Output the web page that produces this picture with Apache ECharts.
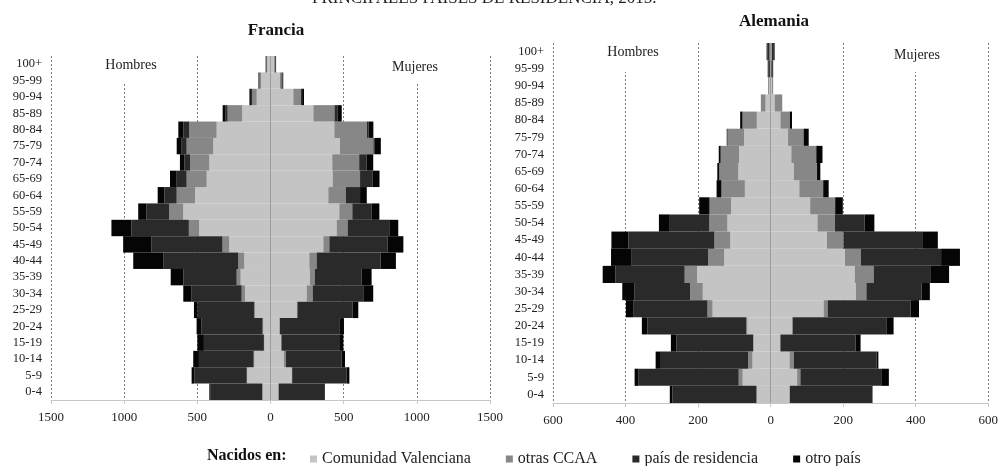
<!DOCTYPE html>
<html>
<head>
<meta charset="utf-8">
<script src="https://cdn.jsdelivr.net/npm/echarts@6/dist/echarts.min.js"></script>
<style>
html,body{margin:0;padding:0;background:#fff;}
#c{width:1001px;height:466px;}
</style>
</head>
<body>
<div id="c"></div>
<script>
// Categories bottom -> top
const ageGroups = ['0-4','5-9','10-14','15-19','20-24','25-29','30-34','35-39','40-44','45-49','50-54','55-59','60-64','65-69','70-74','75-79','80-84','85-89','90-94','95-99','100+'];
const seriesNames = ['Comunidad Valenciana','otras CCAA','país de residencia','otro país'];

// Francia - Hombres
const frMenCV     = [53,159,110,42,49,106,174,204,179,282,487,596,516,436,418,391,368,193,94,65,22];
const frMenOtras  = [3,3,5,3,5,7,23,27,41,46,71,96,125,137,132,182,187,100,32,10,4];
const frMenPais   = [353,359,374,410,417,385,342,364,513,485,392,155,84,68,39,34,41,14,8,5,4];
const frMenOtro   = [9,18,39,45,34,25,57,87,205,194,137,57,46,46,30,34,34,20,10,3,3];
// Francia - Mujeres
const frWomCV     = [53,145,92,72,60,179,247,270,265,361,452,470,395,425,422,475,436,293,156,65,25];
const frWomOtras  = [3,3,14,3,5,5,41,34,50,41,75,89,119,187,184,228,222,144,52,10,5];
const frWomPais   = [311,373,380,400,405,378,346,319,437,397,289,133,98,87,50,10,12,20,8,7,4];
const frWomOtro   = [5,18,23,23,32,38,68,68,105,109,57,52,46,46,46,41,33,30,13,5,4];

// Alemania - Hombres
const deMenCV     = [38,77,50,47,64,160,187,203,128,111,119,109,71,89,87,73,38,14,4,1,2];
const deMenOtras  = [1,11,12,1,3,14,35,34,44,44,50,59,64,52,50,46,39,13,3,1,1];
const deMenPais   = [232,276,243,212,273,205,154,191,211,237,109,2,1,1,1,0,1,0,0,4,6];
const deMenOtro   = [7,11,12,15,15,20,33,35,57,47,30,27,13,5,5,2,6,0,0,2,2];
// Alemania - Mujeres
const deWomCV     = [52,73,52,26,59,146,235,232,205,155,129,109,79,64,57,48,27,11,4,1,2];
const deWomOtras  = [1,9,12,1,2,11,29,52,44,46,48,68,65,64,68,43,26,21,3,1,1];
const deWomPais   = [227,223,228,207,258,229,152,158,221,219,82,1,1,0,1,0,0,0,0,4,6];
const deWomOtro   = [1,21,5,14,20,23,23,50,52,41,27,21,15,9,17,14,6,0,0,1,2];

// Axis ticks
const frTicks = {min:-1500, max:1500, interval:500};
const deTicks = {min:-600, max:600, interval:200};

const colors = ['#c4c4c4','#878787','#2a2a2a','#050505'];
const serif = '"Liberation Serif", "DejaVu Serif", serif';

function neg(a){ return a.map(v => -v); }

function panelSeries(idx, men, wom, stackName){
  const out = [];
  for (let i = 0; i < 4; i++) {
    out.push({name: seriesNames[i], type:'bar', xAxisIndex: idx, yAxisIndex: idx, stack: stackName,
      data: neg(men[i]), barCategoryGap: '0%', itemStyle:{color: colors[i]}, z: 2});
    out.push({name: seriesNames[i], type:'bar', xAxisIndex: idx, yAxisIndex: idx, stack: stackName,
      data: wom[i], barCategoryGap: '0%', itemStyle:{color: colors[i]}, z: 2});
  }
  out.push({name:'centro'+idx, type:'line', xAxisIndex: idx, yAxisIndex: idx, data: [], z: 5,
    markLine:{silent:true, symbol:['none','none'], label:{show:false},
      lineStyle:{color:'#9c9c9c', width:1, type:'solid'}, data:[{xAxis:0}]}});
  return out;
}

function xAxisCfg(idx, t){
  return {type:'value', gridIndex: idx, min:t.min, max:t.max, interval:t.interval,
    axisLine:{show:true, lineStyle:{color:'#c8c8c8'}},
    axisTick:{show:true, length:4, lineStyle:{color:'#c8c8c8'}},
    axisLabel:{margin:11, color:'#222', fontFamily: serif, fontSize:13, formatter: v => String(Math.abs(v))},
    splitLine:{show:true, lineStyle:{color:'#7a7a7a', type:[2,2], width:1}}};
}
function yAxisCfg(idx){
  return {type:'category', gridIndex: idx, data: ageGroups,
    axisLine:{show:false}, axisTick:{show:false},
    axisLabel:{interval:0, margin:9, color:'#222', fontFamily: serif, fontSize:12.5}};
}

const chart = echarts.init(document.getElementById('c'), null, {renderer:'canvas'});

function labelBox(x, y, w, h, cx, cy, text){
  return [
    {type:'rect', shape:{x:x, y:y, width:w, height:h}, style:{fill:'#fff'}, z:3},
    {type:'text', x:cx, y:cy, style:{text:text, font:'14px ' + serif, fill:'#222', align:'center', verticalAlign:'middle'}, z:4}
  ];
}

chart.setOption({
  animation:false,
  backgroundColor:'#fff',
  title:[
    {text:'PRINCIPALES PAÍSES DE RESIDENCIA, 2015.', left:307, top:-15,
      textStyle:{fontFamily: serif, fontWeight:'normal', fontSize:17, color:'#222'}},
    {text:'Francia', left:271, top:17, textAlign:'center',
      textStyle:{fontFamily: serif, fontWeight:'bold', fontSize:17, color:'#111'}},
    {text:'Alemania', left:769, top:8, textAlign:'center',
      textStyle:{fontFamily: serif, fontWeight:'bold', fontSize:17, color:'#111'}}
  ],
  legend:{data: seriesNames, left:305, top:446, itemWidth:7, itemHeight:7, itemGap:35, icon:'rect',
    textStyle:{fontFamily: serif, fontSize:16, color:'#222'}},
  grid:[
    {left:51, right:511, top:56, bottom:66},
    {left:553, right:9, top:43, bottom:63}
  ],
  xAxis:[xAxisCfg(0, frTicks), xAxisCfg(1, deTicks)],
  yAxis:[yAxisCfg(0), yAxisCfg(1)],
  series:[].concat(
    panelSeries(0, [frMenCV, frMenOtras, frMenPais, frMenOtro], [frWomCV, frWomOtras, frWomPais, frWomOtro], 'fr'),
    panelSeries(1, [deMenCV, deMenOtras, deMenPais, deMenOtro], [deWomCV, deWomOtras, deWomPais, deWomOtro], 'de')
  ),
  graphic:[].concat(
    labelBox(100, 56, 62, 27, 131, 65, 'Hombres'),
    labelBox(386, 56, 58, 27, 415, 67, 'Mujeres'),
    labelBox(602, 43, 63, 29, 633, 52, 'Hombres'),
    labelBox(888, 43, 59, 29, 917, 55, 'Mujeres'),
    [{type:'text', x:207, y:456, style:{text:'Nacidos en:', font:'bold 16px ' + serif, fill:'#111', align:'left', verticalAlign:'middle'}, z:4}]
  )
});
</script>
</body>
</html>
